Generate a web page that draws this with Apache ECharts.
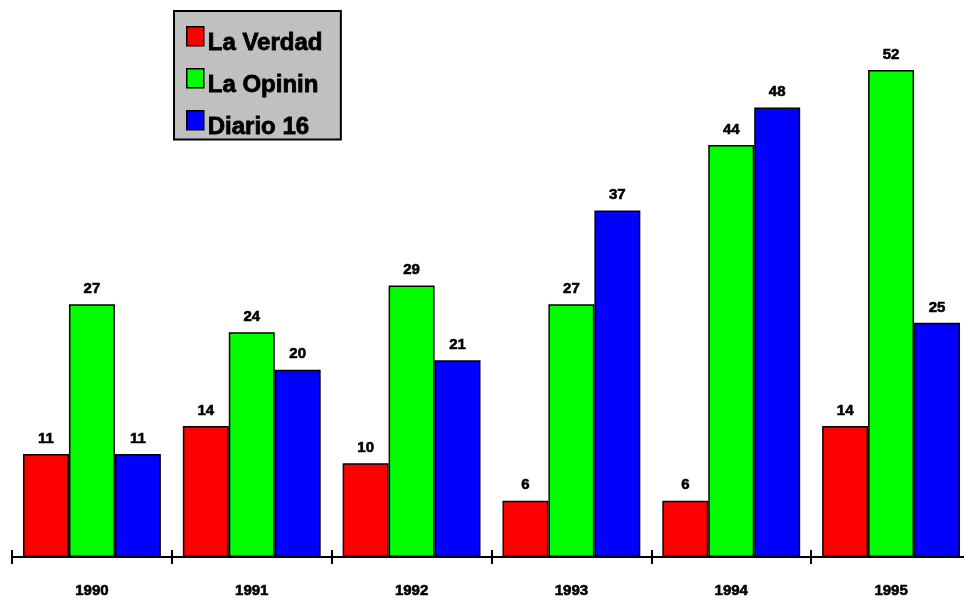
<!DOCTYPE html>
<html>
<head>
<meta charset="utf-8">
<script src="https://cdn.jsdelivr.net/npm/echarts@6/dist/echarts.min.js"></script>
<style>
  html, body { margin: 0; padding: 0; background: #fff; overflow: hidden; }
  #main { width: 971px; height: 600px; }
</style>
</head>
<body>
<div id="main"></div>
<script>
var years = ['1990', '1991', '1992', '1993', '1994', '1995'];
var laVerdad = [11, 14, 10, 6, 6, 14];
var laOpinin = [27, 24, 29, 27, 44, 52];
var diario16 = [11, 20, 21, 37, 48, 25];

var myChart = echarts.init(document.getElementById('main'));

var font = 'Liberation Sans, Arial, sans-serif';

function bar(name, color, data) {
    return {
        name: name,
        type: 'bar',
        barGap: 0,
        barCategoryGap: '13.75%',
        data: data,
        itemStyle: { color: color, borderColor: '#000', borderWidth: 1.5 },
        label: {
            show: true,
            position: 'top',
            distance: 8,
            color: '#000',
            fontWeight: 'bold',
            fontSize: 15,
            fontFamily: font,
            textBorderColor: '#000',
            textBorderWidth: 0.6
        }
    };
}

var option = {
    animation: false,
    backgroundColor: '#fff',
    legend: {
        orient: 'vertical',
        left: 174,
        top: 11,
        backgroundColor: '#c0c0c0',
        borderColor: '#000',
        borderWidth: 2,
        borderRadius: 0,
        padding: [15, 18, -6, 12],
        itemWidth: 17,
        itemHeight: 34,
        itemGap: 6.5,
        // square sits in the top of the item box, so the name lines up lower like the original
        icon: 'path://M0,0L17,0L17,19L0,19ZM0,34L0,34',
        itemStyle: { borderColor: '#000', borderWidth: 1.5 },
        textStyle: {
            color: '#000',
            fontWeight: 'bold',
            fontSize: 24,
            fontFamily: font,
            textBorderColor: '#000',
            textBorderWidth: 0.8,
            padding: [0, 0, 0, -1]
        },
        data: ['La Verdad', 'La Opinin', 'Diario 16']
    },
    grid: { left: 12, right: 0, top: 70, bottom: 43 },
    xAxis: [{
        type: 'category',
        data: years,
        axisLine: { lineStyle: { color: '#000', width: 2 } },
        axisTick: { show: true, length: 7, lineStyle: { color: '#000', width: 2 } },
        axisLabel: {
            color: '#000',
            fontWeight: 'bold',
            fontSize: 15,
            fontFamily: font,
            margin: 26,
            textBorderColor: '#000',
            textBorderWidth: 0.6
        }
    }, {
        type: 'category',
        data: years,
        position: 'bottom',
        axisLine: { show: false },
        axisTick: { show: true, inside: true, length: 7, lineStyle: { color: '#000', width: 2 } },
        axisLabel: { show: false }
    }],
    yAxis: {
        type: 'value',
        min: 0,
        max: 52,
        show: false,
        splitLine: { show: false }
    },
    series: [
        bar('La Verdad', '#ff0000', laVerdad),
        bar('La Opinin', '#00ff00', laOpinin),
        bar('Diario 16', '#0000ff', diario16)
    ]
};

myChart.setOption(option);
window.addEventListener('resize', function () {
    myChart.resize();
});
</script>
</body>
</html>
